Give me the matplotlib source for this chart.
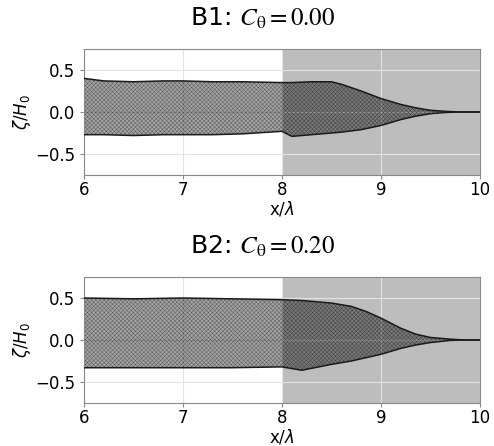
import numpy as np
import matplotlib
matplotlib.use("Agg")
import matplotlib.pyplot as plt

plt.rcParams["hatch.linewidth"] = 0.3

# Envelope of the free-surface snapshots (x/lambda, zeta/H0)
x_b1 = [6.0, 6.2, 6.5, 6.8, 7.0, 7.3, 7.6, 8.0, 8.1, 8.3, 8.5, 8.6, 8.8, 9.0, 9.2, 9.35, 9.5, 9.65, 9.8, 10.0]
up_b1 = [0.40, 0.37, 0.36, 0.37, 0.37, 0.36, 0.36, 0.35, 0.35, 0.36, 0.36, 0.33, 0.25, 0.16, 0.09, 0.05, 0.02, 0.008, 0.0, 0.0]
lo_b1 = [-0.27, -0.27, -0.28, -0.27, -0.27, -0.27, -0.26, -0.23, -0.29, -0.27, -0.25, -0.24, -0.21, -0.16, -0.09, -0.05, -0.02, -0.006, 0.0, 0.0]

x_b2 = [6.0, 6.5, 7.0, 7.5, 8.0, 8.2, 8.5, 8.7, 8.85, 9.0, 9.2, 9.35, 9.5, 9.7, 9.85, 10.0]
up_b2 = [0.50, 0.49, 0.50, 0.49, 0.48, 0.47, 0.44, 0.40, 0.34, 0.26, 0.14, 0.07, 0.03, 0.01, 0.0, 0.0]
lo_b2 = [-0.33, -0.33, -0.33, -0.33, -0.32, -0.36, -0.29, -0.25, -0.21, -0.17, -0.10, -0.06, -0.03, -0.005, 0.0, 0.0]

titles = [r"B1: $C_\mathrm{\theta} = 0.00$", r"B2: $C_\mathrm{\theta} = 0.20$"]
xticks = [6, 7, 8, 9, 10]
yticks = [-0.5, 0.0, 0.5]

W, H = 494, 446
fig = plt.figure(figsize=(W / 100, H / 100), dpi=100)

panels = [
    (x_b1, up_b1, lo_b1, titles[0], 49, 175),
    (x_b2, up_b2, lo_b2, titles[1], 277, 403),
]
left_px, right_px = 84, 480

for xs, up, lo, title, top_px, bot_px in panels:
    ax = fig.add_axes([left_px / W, 1 - bot_px / H, (right_px - left_px) / W, (bot_px - top_px) / H])
    ax.set_xlim(6, 10)
    ax.set_ylim(-0.75, 0.75)
    ax.axvspan(8, 10, color="#bdbdbd", zorder=0, lw=0)
    ax.grid(True, color="#e3e3e3", lw=0.8, zorder=0.5)
    ax.set_axisbelow(True)
    ax.fill_between(xs, lo, up, facecolor=(0, 0, 0, 0.36), edgecolor=(0, 0, 0, 0.5),
                    hatch="xxxxxxxx", lw=0, zorder=2)
    ax.plot(xs, up, color="#1a1a1a", lw=1.1, zorder=3)
    ax.plot(xs, lo, color="#1a1a1a", lw=1.1, zorder=3)
    ax.set_xticks(xticks)
    ax.set_yticks(yticks)
    ax.tick_params(labelsize=12, length=3, color="#888888")
    ax.tick_params(axis="x", pad=1)
    for s in ax.spines.values():
        s.set_color("#888888")
    ax.set_xlabel(r"x/$\lambda$", fontsize=12, labelpad=0.5)
    ax.set_ylabel(r"$\zeta/H_0$", fontsize=12, labelpad=1)
    ax.set_title(title, fontsize=18, pad=17, x=0.452, math_fontfamily="stix")

fig.savefig("out.png", dpi=100)
